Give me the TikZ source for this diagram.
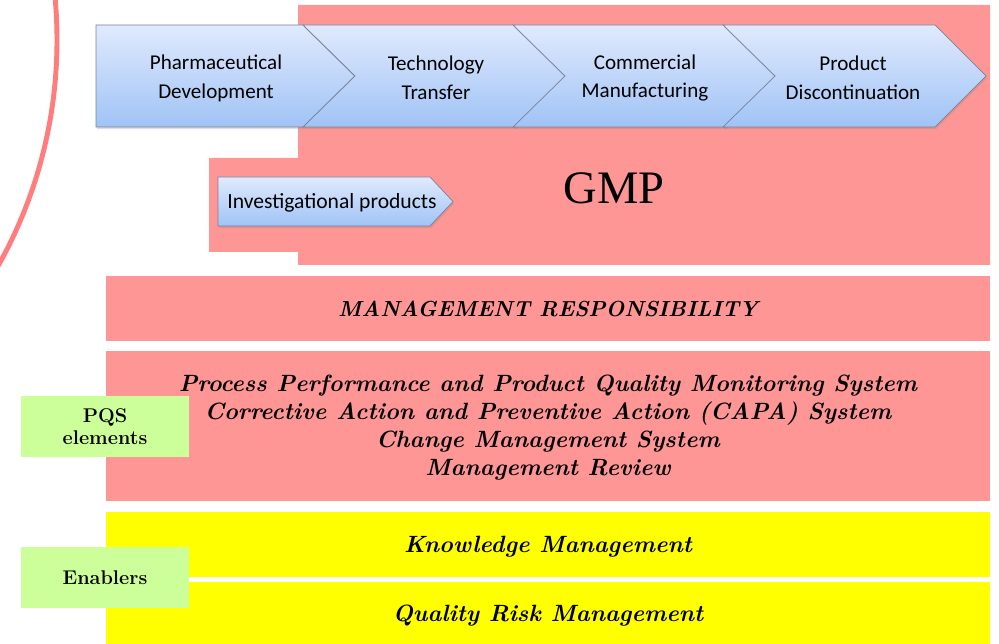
\documentclass[tikz,border=0pt]{standalone}
\usepackage{fontspec}
\newfontfamily\stagefont{Carlito}
\newfontfamily\gmpfont{Liberation Serif}
\usetikzlibrary{calc}
\usetikzlibrary{positioning}
\usetikzlibrary{shadows}

\definecolor{gmppink}{RGB}{255,150,150}
\definecolor{arcred}{RGB}{255,125,125}
\definecolor{stagetop}{RGB}{224,234,253}
\definecolor{stagebottom}{RGB}{160,195,246}
\definecolor{stageline}{RGB}{120,130,150}
\definecolor{taggreen}{RGB}{204,255,153}
\definecolor{bandyellow}{RGB}{255,255,0}

\tikzset{
  stage/.style={top color=stagetop, bottom color=stagebottom, draw=stageline,
    line width=0.4pt, drop shadow={opacity=0.25, shadow xshift=0.6pt, shadow yshift=-1.2pt}},
  stagetext/.style={font=\stagefont\fontsize{12}{16.5}\selectfont, align=center, inner sep=0},
  band/.style={minimum width=17.68cm, inner sep=0, align=center,
    font=\fontsize{13.4}{15.9}\selectfont\bfseries\itshape},
  tag/.style={fill=taggreen, minimum width=3.36cm, minimum height=1.22cm, inner sep=0,
    align=center, font=\fontsize{11.3}{12.5}\selectfont\bfseries},
}

\begin{document}
\begin{tikzpicture}[x=0.02cm, y=-0.02cm]
  \useasboundingbox (0,0) rectangle (999,644);

  % arc on the left
  \begin{scope}
    \clip (0,0) rectangle (999,644);
    \draw [arcred, line width=2.8pt] (-405,40) circle [radius=462];
  \end{scope}

  % GMP area
  \fill [gmppink] (298,5) -- (990,5) -- (990,265) -- (298,265) -- (298,252)
    -- (209,252) -- (209,158) -- (298,158) -- cycle;
  \node [font=\gmpfont\fontsize{26.5}{30}\selectfont] (gmp) at (614,188) {GMP};

  % life cycle stages
  \draw [stage] (96,25) -- (303,25) -- (355,76) -- (303,127) -- (96,127) -- cycle;
  \foreach \x in {303,513,723}
    \draw [stage] (\x,25) -- ++(212,0) -- ++(51,51) -- ++(-51,51) -- ++(-212,0) -- ++(52,-51) -- cycle;

  \node [stagetext] (pharm) at (216,78) {Pharmaceutical\\Development};
  \node [stagetext] (transfer) at (436,78) {Technology\\Transfer};
  \node [stagetext] (manuf) at (645,78) {Commercial\\Manufacturing};
  \node [stagetext] (discont) at (853,78) {Product\\Discontinuation};

  \draw [stage] (218,177) -- (430,177) -- (453,201.5) -- (430,226) -- (218,226) -- cycle;
  \node [stagetext, font=\stagefont\fontsize{12.3}{16.5}\selectfont] (invest) at (332,203) {Investigational products};

  % PQS bands
  \node [band, fill=gmppink, minimum height=1.3cm, font=\fontsize{12.4}{15.9}\selectfont\bfseries\itshape]
    (mgmt) at (548,308.5) {MANAGEMENT RESPONSIBILITY};
  \node [band, fill=gmppink, minimum height=3cm] (pqs) at (548,426) {};
  \node [band, fill=none] (pqstext) at (548,427.5)
    {Process Performance and Product Quality Monitoring System\\
     Corrective Action and Preventive Action (CAPA) System\\
     Change Management System\\
     Management Review};
  \node [band, fill=bandyellow, minimum height=1.3cm] (knowledge) at (548,544.5) {};
  \node [band] (knowledgetext) at (548,546.5) {Knowledge Management};
  \node [band, fill=bandyellow, minimum height=1.24cm] (risk) at (548,613) {};
  \node [band] (risktext) at (548,616) {Quality Risk Management};

  \node [tag] (pqstag) at (105,426.5) {PQS\\elements};
  \node [tag] (enablers) at (105,577.5) {Enablers};
\end{tikzpicture}
\end{document}
